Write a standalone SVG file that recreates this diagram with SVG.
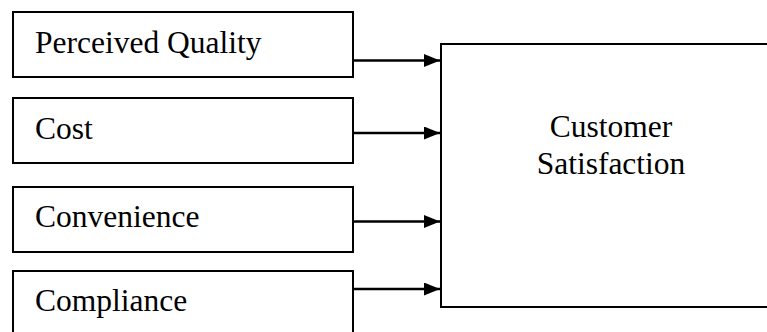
<svg xmlns="http://www.w3.org/2000/svg" width="767" height="332" viewBox="0 0 767 332">
<style>
.box{fill:#fff;stroke:#000;stroke-width:2}
.t{font-family:"Liberation Serif","Times New Roman",serif;font-size:31.5px;fill:#000}
.c{stroke:#000;stroke-width:2.5;fill:none}
</style>
<defs>
<marker id="ah" viewBox="0 0 16 13" refX="16" refY="6.5" markerWidth="16" markerHeight="13" markerUnits="userSpaceOnUse" orient="auto">
<path d="M0,0 L16,6.5 L0,13 Z" fill="#000"/>
</marker>
</defs>
<rect width="767" height="332" fill="#fff"/>
<g id="n-quality"><rect class="box" x="13" y="12" width="340" height="65"/><text class="t" x="35" y="53">Perceived Quality</text></g>
<g id="n-cost"><rect class="box" x="13" y="98" width="340" height="65"/><text class="t" x="35" y="139">Cost</text></g>
<g id="n-convenience"><rect class="box" x="13" y="187" width="340" height="65"/><text class="t" x="35" y="227">Convenience</text></g>
<g id="n-compliance"><rect class="box" x="13" y="271" width="340" height="65"/><text class="t" x="35" y="311">Compliance</text></g>
<g id="n-satisfaction"><rect class="box" x="441" y="44" width="340" height="263"/><text class="t" x="611" y="137" text-anchor="middle">Customer</text><text class="t" x="611" y="174" text-anchor="middle">Satisfaction</text></g>
<g id="connectors">
<line class="c" x1="353" y1="60.5" x2="440" y2="60.5" marker-end="url(#ah)"/>
<line class="c" x1="353" y1="133" x2="440" y2="133" marker-end="url(#ah)"/>
<line class="c" x1="353" y1="221.5" x2="440" y2="221.5" marker-end="url(#ah)"/>
<line class="c" x1="353" y1="289" x2="440" y2="289" marker-end="url(#ah)"/>
</g>
</svg>
